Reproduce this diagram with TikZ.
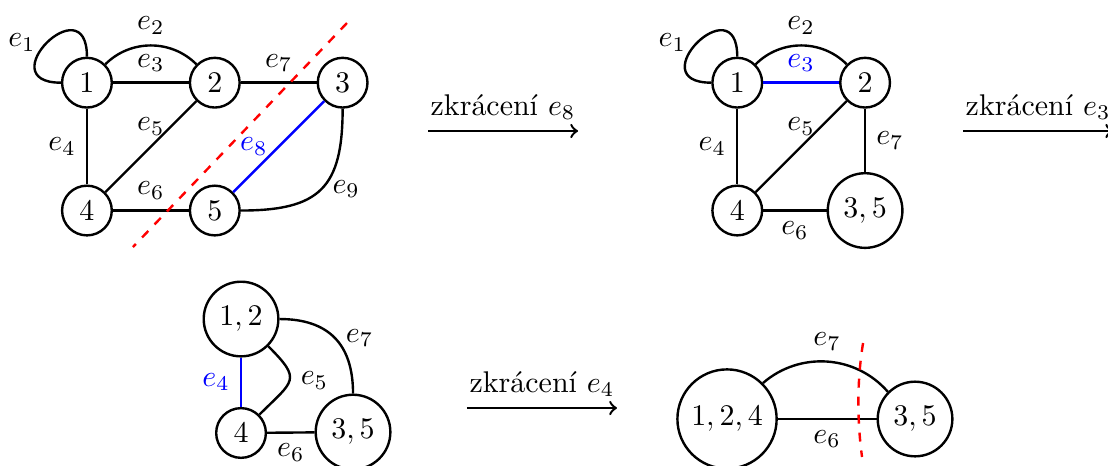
\documentclass[tikz,border=0pt]{standalone}
\usepackage{amsmath,amssymb}
\usepackage{tikz}
\usetikzlibrary{arrows,calc}
\tikzset{vrchol/.style={circle,draw,thick,inner sep=3pt},
  hrana/.style={thick},
  rez/.style={red,thick,dashed}}

\begin{document}
\begin{tikzpicture}
  \useasboundingbox (0,0) rectangle (13,-5.456);
  % puvodni graf
  \node[vrchol] (a1) at (1.02,-0.97) {$1$};
  \node[vrchol] (a2) at (2.52,-0.97) {$2$};
  \node[vrchol] (a3) at (4.02,-0.97) {$3$};
  \node[vrchol] (a4) at (1.02,-2.47) {$4$};
  \node[vrchol] (a5) at (2.52,-2.47) {$5$};
  \draw[hrana] (a1) to[out=90,in=180,looseness=5] node[left] {$e_1$} (a1);
  \draw[hrana] (a1) to[bend left=45] node[above] {$e_2$} (a2);
  \draw[hrana] (a1) -- node[above] {$e_3$} (a2);
  \draw[hrana] (a1) -- node[left] {$e_4$} (a4);
  \draw[hrana] (a4) -- node[above] {$e_5$} (a2);
  \draw[hrana] (a4) -- node[above] {$e_6$} (a5);
  \draw[hrana] (a2) -- node[above] {$e_7$} (a3);
  \draw[hrana,blue] (a5) -- node[left] {$e_8$} (a3);
  \draw[hrana] (a3) to[out=-90,in=0,looseness=1.4] node[right] {$e_9$} (a5);
  \coordinate (r1) at (4.071,-0.270);
  \coordinate (r2) at (1.560,-2.898);
  \draw[rez] (r1) -- (r2);
  % sipka 1
  \coordinate (s1) at (5.022,-1.537);
  \coordinate (s2) at (6.782,-1.537);
  \draw[thick,->] (s1) -- node[above] {zkrácení $e_8$} (s2);
  % po zkraceni e8
  \node[vrchol] (b1) at (8.65,-0.97) {$1$};
  \node[vrchol] (b2) at (10.15,-0.97) {$2$};
  \node[vrchol] (b4) at (8.65,-2.47) {$4$};
  \node[vrchol] (b35) at (10.15,-2.47) {$3,5$};
  \draw[hrana] (b1) to[out=90,in=180,looseness=5] node[left] {$e_1$} (b1);
  \draw[hrana] (b1) to[bend left=45] node[above] {$e_2$} (b2);
  \draw[hrana,blue] (b1) -- node[above] {$e_3$} (b2);
  \draw[hrana] (b1) -- node[left] {$e_4$} (b4);
  \draw[hrana] (b4) -- node[above] {$e_5$} (b2);
  \draw[hrana] (b4) -- node[below] {$e_6$} (b35);
  \draw[hrana] (b2) -- node[right] {$e_7$} (b35);
  % sipka 2
  \coordinate (s3) at (11.299,-1.537);
  \coordinate (s4) at (13.06,-1.537);
  \draw[thick,->] (s3) -- node[above] {zkrácení $e_3$} (s4);
  % po zkraceni e3
  \node[vrchol] (c12) at (2.828,-3.743) {$1,2$};
  \node[vrchol] (c4) at (2.828,-5.080) {$4$};
  \node[vrchol] (c35) at (4.142,-5.069) {$3,5$};
  \draw[hrana,blue] (c12) -- node[left] {$e_4$} (c4);
  \draw[hrana] (c12) to[out=-45,in=45,looseness=1.8] node[right] {$e_5$} (c4);
  \draw[hrana] (c12) to[out=0,in=90,looseness=1.2] node[right] {$e_7$} (c35);
  \draw[hrana] (c4) -- node[below] {$e_6$} (c35);
  % sipka 3
  \coordinate (s5) at (5.479,-4.787);
  \coordinate (s6) at (7.239,-4.787);
  \draw[thick,->] (s5) -- node[above] {zkrácení $e_4$} (s6);
  % po zkraceni e4
  \node[vrchol] (d124) at (8.530,-4.916) {$1,2,4$};
  \node[vrchol] (d35) at (10.736,-4.916) {$3,5$};
  \draw[hrana] (d124) to[bend left=45] node[above] {$e_7$} (d35);
  \draw[hrana] (d124) -- node[below] {$e_6$} (d35);
  \coordinate (r3) at (10.126,-4.024);
  \coordinate (r4) at (10.114,-5.362);
  \draw[rez] (r3) .. controls (10.055,-4.459) and (10.055,-4.928) .. (r4);
\end{tikzpicture}
\end{document}
